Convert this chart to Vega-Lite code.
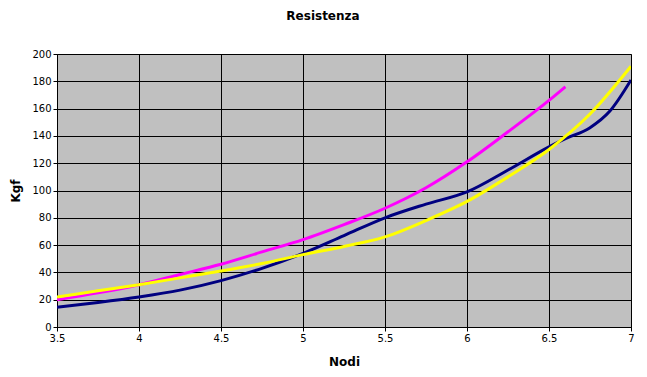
{
  "$schema": "https://vega.github.io/schema/vega-lite/v6.json",
  "autosize": "none",
  "width": 574,
  "height": 273,
  "padding": {"left": 57, "top": 54, "right": 16, "bottom": 50},
  "background": "white",
  "title": {"text": "Resistenza", "font": "DejaVu Sans", "fontSize": 12, "fontWeight": "bold", "color": "black", "offset": 26, "dx": -21},
  "config": {
    "view": {"fill": "#C0C0C0", "stroke": "#808080", "strokeWidth": 1},
    "axis": {"labelFont": "DejaVu Sans", "labelFontSize": 10, "labelColor": "black", "titleFont": "DejaVu Sans", "titleFontSize": 12, "titleFontWeight": "bold", "titleColor": "black", "gridColor": "black", "gridOpacity": 1, "gridWidth": 1, "domainColor": "black", "tickColor": "black", "tickSize": 4}
  },
  "data": {"values": [
    {"s": "A", "x": 3.5, "y": 14.5}, {"s": "A", "x": 3.75, "y": 18}, {"s": "A", "x": 4, "y": 22}, {"s": "A", "x": 4.25, "y": 27}, {"s": "A", "x": 4.5, "y": 34}, {"s": "A", "x": 4.75, "y": 43}, {"s": "A", "x": 5, "y": 54}, {"s": "A", "x": 5.25, "y": 67}, {"s": "A", "x": 5.5, "y": 80}, {"s": "A", "x": 5.75, "y": 90}, {"s": "A", "x": 6, "y": 99}, {"s": "A", "x": 6.25, "y": 115}, {"s": "A", "x": 6.5, "y": 132}, {"s": "A", "x": 6.6, "y": 138}, {"s": "A", "x": 6.75, "y": 146}, {"s": "A", "x": 6.87, "y": 158}, {"s": "A", "x": 7, "y": 181},
    {"s": "B", "x": 3.5, "y": 20}, {"s": "B", "x": 3.75, "y": 25}, {"s": "B", "x": 4, "y": 31}, {"s": "B", "x": 4.25, "y": 38.5}, {"s": "B", "x": 4.5, "y": 46}, {"s": "B", "x": 4.75, "y": 55}, {"s": "B", "x": 5, "y": 64}, {"s": "B", "x": 5.25, "y": 75}, {"s": "B", "x": 5.5, "y": 87}, {"s": "B", "x": 5.75, "y": 102}, {"s": "B", "x": 6, "y": 121}, {"s": "B", "x": 6.25, "y": 143}, {"s": "B", "x": 6.5, "y": 166}, {"s": "B", "x": 6.6, "y": 176},
    {"s": "C", "x": 3.5, "y": 22}, {"s": "C", "x": 3.75, "y": 26.5}, {"s": "C", "x": 4, "y": 31}, {"s": "C", "x": 4.25, "y": 36}, {"s": "C", "x": 4.5, "y": 41}, {"s": "C", "x": 4.75, "y": 46.5}, {"s": "C", "x": 5, "y": 53}, {"s": "C", "x": 5.25, "y": 59}, {"s": "C", "x": 5.5, "y": 66}, {"s": "C", "x": 5.75, "y": 78}, {"s": "C", "x": 6, "y": 92}, {"s": "C", "x": 6.25, "y": 110}, {"s": "C", "x": 6.5, "y": 130}, {"s": "C", "x": 6.75, "y": 156}, {"s": "C", "x": 7, "y": 191}
  ]},
  "mark": {"type": "line", "strokeWidth": 3, "interpolate": "monotone", "clip": true},
  "encoding": {
    "x": {"field": "x", "type": "quantitative", "title": "Nodi", "scale": {"domain": [3.5, 7], "nice": false, "zero": false}, "axis": {"values": [3.5, 4, 4.5, 5, 5.5, 6, 6.5, 7], "labelFlush": false, "titlePadding": 13, "format": "~g"}},
    "y": {"field": "y", "type": "quantitative", "title": "Kgf", "scale": {"domain": [0, 200], "nice": false}, "axis": {"values": [0, 20, 40, 60, 80, 100, 120, 140, 160, 180, 200], "titlePadding": 9}},
    "color": {"field": "s", "type": "nominal", "legend": null, "scale": {"domain": ["A", "B", "C"], "range": ["#000080", "#FF00FF", "#FFFF00"]}},
    "order": {"field": "x", "type": "quantitative"}
  }
}
